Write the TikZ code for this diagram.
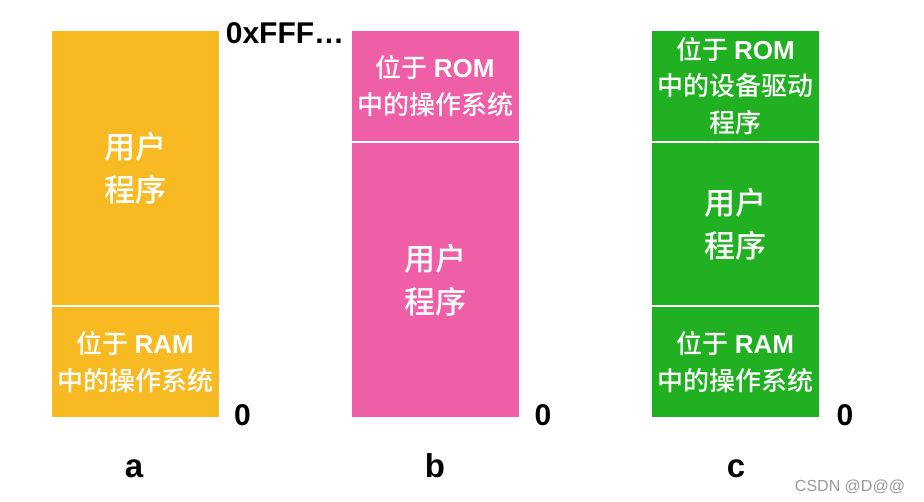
\documentclass[tikz,border=0pt]{standalone}
\usepackage{fontspec}
\setmainfont{Liberation Sans}
\newfontfamily\cjk{Noto Sans CJK SC Medium}
\newcommand{\lat}[1]{{\rmfamily\bfseries #1}}
\definecolor{memorange}{HTML}{F7BA22}
\definecolor{mempink}{HTML}{EF5FA7}
\definecolor{memgreen}{HTML}{20B022}
\begin{document}
\begin{tikzpicture}[x=1pt,y=-1pt,
	blk/.style={inner sep=0pt,minimum width=167.5pt,text=white,align=center},
	big/.style={font=\cjk\fontsize{31}{43}\selectfont},
	small/.style={font=\cjk\fontsize{26}{36.5}\selectfont},
	addr/.style={font=\bfseries\fontsize{30}{30}\selectfont,anchor=base},
	lbl/.style={font=\bfseries\fontsize{33}{33}\selectfont,anchor=base}]
	\useasboundingbox (0,0) rectangle (924,502);
	% a
	\node[blk,big,fill=memorange,minimum height=274pt] (a1) at (135.25,168) {用户\\程序};
	\node[blk,small,fill=memorange,minimum height=109.5pt] (a2) at (135.25,362.25) {位于 \lat{RAM}\\中的操作系统};
	% b
	\node[blk,small,fill=mempink,minimum height=110pt] (b1) at (435.25,86) {位于 \lat{ROM}\\中的操作系统};
	\node[blk,big,fill=mempink,minimum height=273.5pt] (b2) at (435.25,280.25) {用户\\程序};
	% c
	\node[blk,small,fill=memgreen,minimum height=110pt] (c1) at (735.5,86) {位于 \lat{ROM}\\中的设备驱动\\程序};
	\node[blk,big,fill=memgreen,minimum height=161.5pt] (c2) at (735.5,224.25) {用户\\程序};
	\node[blk,small,fill=memgreen,minimum height=109.5pt] (c3) at (735.5,362.25) {位于 \lat{RAM}\\中的操作系统};
	% addresses
	\node[addr] (top) at (285,44) {0xFFF\ldots};
	\node[addr] (za) at (242.5,426) {0};
	\node[addr] (zb) at (543,426) {0};
	\node[addr] (zc) at (845,426) {0};
	\node[lbl] (la) at (134,477) {a};
	\node[lbl] (lb) at (435,477) {b};
	\node[lbl] (lc) at (736,477) {c};
	\node[font=\fontsize{16}{16}\selectfont,text=gray!80,anchor=base] (mark) at (850,491) {CSDN @D@@};
\end{tikzpicture}
\end{document}
